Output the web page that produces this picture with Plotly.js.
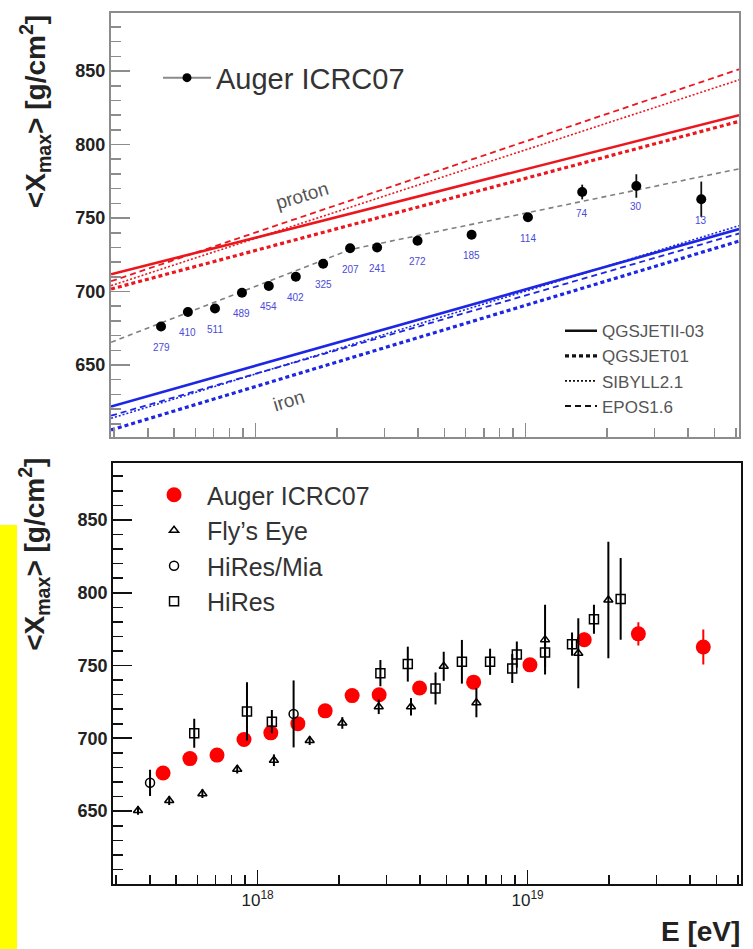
<!DOCTYPE html>
<html><head><meta charset="utf-8">
<script src="https://cdn.plot.ly/plotly-3.0.1.min.js"></script>
<style>html,body{margin:0;padding:0;background:#fff}#chart{width:753px;height:949px}</style>
</head><body><div id="chart"></div>
<script>
// ---------- data ----------
const augerE      = [4.47e17, 5.62e17, 7.08e17, 8.91e17, 1.12e18, 1.41e18, 1.78e18, 2.24e18, 2.82e18, 3.98e18, 6.31e18, 1.02e19, 1.62e19, 2.57e19, 4.47e19];
const augerXmax   = [676.2, 686.1, 688.5, 699.2, 703.8, 710.1, 718.9, 729.4, 730.0, 734.6, 738.6, 750.5, 767.7, 771.8, 762.8];
const augerErr    = [3, 3, 3, 3, 3, 3, 3, 3, 3, 3, 3, 3, 5, 8, 12];
const augerCounts = ["279", "410", "511", "489", "454", "402", "325", "207", "241", "272", "185", "114", "74", "30", "13"];

const flysE    = [3.61e17, 4.71e17, 6.25e17, 8.41e17, 1.15e18, 1.56e18, 2.06e18, 2.81e18, 3.70e18, 4.89e18, 6.46e18, 1.16e19, 1.54e19, 1.99e19];
const flysXmax = [650.5, 657.3, 662.0, 678.8, 685.0, 698.5, 710.6, 721.7, 721.7, 749.5, 724.5, 767.8, 758.5, 795.0];
const flysErr  = [3, 3, 3, 3, 4, 3, 4, 5, 6, 10, 10, 24, 24, 40];

const hiresMiaE    = [4.00e17, 1.36e18];
const hiresMiaXmax = [669.5, 716.8];
const hiresMiaErr  = [9, 23];

const hiresE    = [5.83e17, 9.14e17, 1.13e18, 2.85e18, 3.60e18, 4.56e18, 5.71e18, 7.26e18, 8.77e18, 9.12e18, 1.16e19, 1.46e19, 1.76e19, 2.21e19];
const hiresXmax = [703.5, 718.5, 711.5, 744.8, 751.0, 734.3, 752.6, 752.6, 748.0, 757.6, 758.9, 764.7, 781.8, 795.8];
const hiresErr  = [10, 20, 8, 9, 12, 11, 15, 9, 10, 9, 10, 8, 10, 28];

// model predictions (straight lines in log E), end points
const modelNames = ["QGSJETII-03", "QGSJET01", "SIBYLL2.1", "EPOS1.6"];
const modelE = [2.92e17, 6.17e19];
const protonQGSJETII = [711.7, 820.0];
const protonQGSJET01 = [701.7, 815.8];
const protonSIBYLL   = [704.0, 844.0];
const protonEPOS     = [707.0, 851.2];
const ironQGSJETII   = [621.7, 742.5];
const ironQGSJET01   = [605.8, 734.3];
const ironSIBYLL     = [613.7, 744.8];
const ironEPOS       = [615.5, 739.5];

// Auger broken-line fit
const fitE    = [2.92e17, 2.24e18, 6.17e19];
const fitXmax = [665.5, 728.5, 783.5];

// ticks
const yTickVals  = [650, 700, 750, 800, 850];
const xTickVals  = [1e18, 1e19];
const xTickText  = ["10<sup>18</sup>", "10<sup>19</sup>"];
const xMinorVals = [3e17,4e17,5e17,6e17,7e17,8e17,9e17,2e18,3e18,4e18,5e18,6e18,7e18,8e18,9e18,2e19,3e19,4e19,5e19,6e19];

// ---------- styles ----------
const RED = "rgb(236,22,30)", BLUE = "rgb(28,38,228)";
const dashes = {
  "QGSJETII-03": {dash: "solid", width: 2.6},
  "QGSJET01":    {dash: "4px,3px", width: 3.2},
  "SIBYLL2.1":   {dash: "2px,2px", width: 1.6},
  "EPOS1.6":     {dash: "6px,4px", width: 1.8}
};
const FONT = "Liberation Sans, Arial, Helvetica, sans-serif";

const traces = [];
const protonSets = [protonQGSJETII, protonQGSJET01, protonSIBYLL, protonEPOS];
const ironSets   = [ironQGSJETII, ironQGSJET01, ironSIBYLL, ironEPOS];
modelNames.forEach((n, i) => {
  traces.push({x: modelE, y: protonSets[i], mode: "lines", xaxis: "x", yaxis: "y", showlegend: false, hoverinfo: "skip",
    line: {color: RED, dash: dashes[n].dash, width: dashes[n].width}});
  traces.push({x: modelE, y: ironSets[i], mode: "lines", xaxis: "x", yaxis: "y", showlegend: false, hoverinfo: "skip",
    line: {color: BLUE, dash: dashes[n].dash, width: dashes[n].width}});
});
traces.push({x: fitE, y: fitXmax, mode: "lines", xaxis: "x", yaxis: "y", showlegend: false,
  line: {color: "#808080", dash: "5px,4px", width: 1.6}});
traces.push({x: augerE, y: augerXmax, mode: "markers", xaxis: "x", yaxis: "y", showlegend: false,
  marker: {color: "#000", size: 10},
  error_y: {type: "data", array: augerErr, visible: true, width: 0, thickness: 1.8, color: "#111"}});
// legend entries top
traces.push({x: [null], y: [null], mode: "lines+markers", name: "Auger ICRC07", xaxis: "x", yaxis: "y", legend: "legend",
  line: {color: "#8a8a8a", width: 2}, marker: {color: "#000", size: 9}});
modelNames.forEach(n => {
  traces.push({x: [null], y: [null], mode: "lines", name: n, xaxis: "x", yaxis: "y", legend: "legend2",
    line: {color: "#111", dash: dashes[n].dash, width: dashes[n].width}});
});
// bottom panel
traces.push({x: augerE, y: augerXmax, mode: "markers", name: "Auger ICRC07", xaxis: "x2", yaxis: "y2", legend: "legend3",
  marker: {color: "#ff0000", size: 15, symbol: "circle"},
  error_y: {type: "data", array: augerErr, visible: true, width: 0, thickness: 2, color: "#ff0000"}});
traces.push({x: flysE, y: flysXmax, mode: "markers", name: "Fly\u2019s Eye", xaxis: "x2", yaxis: "y2", legend: "legend3",
  marker: {color: "#000", size: 8, symbol: "triangle-up-open", line: {width: 1.5}},
  error_y: {type: "data", array: flysErr, visible: true, width: 0, thickness: 2, color: "#000"}});
traces.push({x: hiresMiaE, y: hiresMiaXmax, mode: "markers", name: "HiRes/Mia", xaxis: "x2", yaxis: "y2", legend: "legend3",
  marker: {color: "#000", size: 9, symbol: "circle-open", line: {width: 1.5}},
  error_y: {type: "data", array: hiresMiaErr, visible: true, width: 0, thickness: 2, color: "#000"}});
traces.push({x: hiresE, y: hiresXmax, mode: "markers", name: "HiRes", xaxis: "x2", yaxis: "y2", legend: "legend3",
  marker: {color: "#000", size: 9, symbol: "square-open", line: {width: 1.5}},
  error_y: {type: "data", array: hiresErr, visible: true, width: 0, thickness: 2, color: "#000"}});

// ---------- layout ----------
function xAxis(domain, anchor, col, lw, labels) {
  return {type: "log", domain: domain, anchor: anchor, range: [17.465, 19.79],
    tickmode: "array", tickvals: xTickVals, ticktext: xTickText, showticklabels: labels,
    tickfont: {family: FONT, size: 17, color: "#222"},
    ticks: "inside", ticklen: 14, tickwidth: 1.6, tickcolor: col,
    showline: true, linecolor: col, linewidth: lw, mirror: true, showgrid: false, zeroline: false,
    minor: {tickmode: "array", tickvals: xMinorVals, ticks: "inside", ticklen: 9, tickwidth: 1.6, tickcolor: col, showgrid: false}};
}
function yAxis(domain, anchor, range, col, lw) {
  return {domain: domain, anchor: anchor, range: range,
    tickmode: "array", tickvals: yTickVals, ticktext: yTickVals.map(String),
    tickfont: {family: FONT, size: 18, color: "#222", weight: "bold"},
    ticks: "inside", ticklen: 19, tickwidth: 1.8, tickcolor: col,
    showline: true, linecolor: col, linewidth: lw, mirror: true, showgrid: false, zeroline: false,
    minor: {dtick: 10, ticks: "inside", ticklen: 10, tickwidth: 1.6, tickcolor: col, showgrid: false}};
}

const annotations = [];
augerCounts.forEach((c, i) => {
  annotations.push({x: Math.log10(augerE[i]), y: augerXmax[i], xref: "x", yref: "y", text: c, showarrow: false,
    yshift: -21, font: {family: FONT, size: 10, color: "#4a4ad8"}});
});
const yTitle = "&lt;X<sub>max</sub>&gt; [g/cm<sup>2</sup>]";
annotations.push({x: 0.046, y: 0.8825, xref: "paper", yref: "paper", xanchor: "center", yanchor: "middle",
  text: yTitle, textangle: -90, showarrow: false, font: {family: FONT, size: 28, color: "#222", weight: "bold"}});
annotations.push({x: 0.046, y: 0.416, xref: "paper", yref: "paper", xanchor: "center", yanchor: "middle",
  text: yTitle, textangle: -90, showarrow: false, font: {family: FONT, size: 28, color: "#222", weight: "bold"}});
annotations.push({x: 0.9854, y: 0.018, xref: "paper", yref: "paper", xanchor: "right", yanchor: "middle", text: "E [eV]", showarrow: false,
  font: {family: FONT, size: 28, color: "#222", weight: "bold"}});
annotations.push({x: 0.401, y: 0.7945, xref: "paper", yref: "paper", xanchor: "center", yanchor: "middle",
  text: "proton", textangle: -17, showarrow: false, font: {family: FONT, size: 19, color: "#555"}});
annotations.push({x: 0.3838, y: 0.5775, xref: "paper", yref: "paper", xanchor: "center", yanchor: "middle",
  text: "iron", textangle: -17, showarrow: false, font: {family: FONT, size: 19, color: "#555"}});

const layout = {
  width: 753, height: 949, margin: {l: 0, r: 0, t: 0, b: 0},
  paper_bgcolor: "#fff", plot_bgcolor: "#fff",
  font: {family: FONT, color: "#222"},
  showlegend: true,
  xaxis: xAxis([0.1474, 0.9814], "y", "#8c8c8c", 2, false),
  yaxis: yAxis([0.5395, 0.9863], "x", [601, 889.5], "#8c8c8c", 2),
  xaxis2: xAxis([0.1501, 0.9841], "y2", "#111", 2, true),
  yaxis2: yAxis([0.0685, 0.5124], "x2", [600, 889.3], "#111", 2),
  legend:  {x: 0.2098, y: 0.918, xanchor: "left", yanchor: "middle", bgcolor: "rgba(0,0,0,0)", itemwidth: 48,
            font: {family: FONT, size: 29, color: "#333"}},
  legend2: {x: 0.7437, y: 0.67, xanchor: "left", yanchor: "top", bgcolor: "rgba(0,0,0,0)", itemwidth: 32,
            font: {family: FONT, size: 17, color: "#555"}},
  legend3: {x: 0.1873, y: 0.5026, xanchor: "left", yanchor: "top", bgcolor: "rgba(0,0,0,0)", itemwidth: 56,
            font: {family: FONT, size: 25, color: "#333"}},
  shapes: [{type: "rect", xref: "paper", yref: "paper", x0: 0, x1: 0.0226, y0: 0, y1: 0.4468,
            fillcolor: "#ffff00", line: {width: 0}, layer: "below"}],
  annotations: annotations
};

Plotly.newPlot("chart", traces, layout, {staticPlot: true, displayModeBar: false});
</script>
</body></html>
